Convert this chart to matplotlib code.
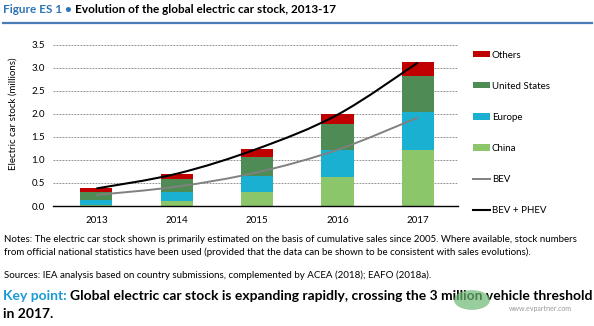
import matplotlib
matplotlib.use('Agg')
import matplotlib.pyplot as plt
import numpy as np
from matplotlib.path import Path
from matplotlib.patches import PathPatch, Patch, Circle
from matplotlib.lines import Line2D

plt.rcParams['font.family'] = ['Lato', 'DejaVu Sans']

# ---- data (millions of electric cars) ----
years = ['2013', '2014', '2015', '2016', '2017']
china = [0.02, 0.10, 0.30, 0.64, 1.21]
europe = [0.12, 0.20, 0.36, 0.57, 0.84]
united_states = [0.165, 0.28, 0.41, 0.56, 0.76]
others = [0.075, 0.11, 0.17, 0.22, 0.31]
bev = [0.24, 0.42, 0.73, 1.22, 1.92]
bev_phev = [0.38, 0.70, 1.24, 1.98, 3.11]
yticks = [0.0, 0.5, 1.0, 1.5, 2.0, 2.5, 3.0, 3.5]

C_CHINA = '#8CC66A'
C_EUROPE = '#19B0D2'
C_US = '#4F8B55'
C_OTHERS = '#C00000'
C_BEV = '#808080'
C_TOTAL = '#000000'

W, H = 594, 326
fig = plt.figure(figsize=(W / 100, H / 100), dpi=100)

def fx(px):
    return px / W

def fy(py):
    return 1 - py / H

ax = fig.add_axes([fx(53), fy(206), (458 - 53) / W, (206 - 44.7) / H])

x = np.arange(len(years))
bw = 0.4
bottom = np.zeros(len(years))
for vals, col, lab in [(china, C_CHINA, 'China'), (europe, C_EUROPE, 'Europe'),
                       (united_states, C_US, 'United States'), (others, C_OTHERS, 'Others')]:
    ax.bar(x, vals, bw, bottom=bottom, color=col, zorder=2, linewidth=0)
    bottom = bottom + np.array(vals)

def smooth_path(xs, ys):
    pts = np.column_stack([xs, ys]).astype(float)
    n = len(pts)
    verts = [pts[0]]
    codes = [Path.MOVETO]
    for i in range(n - 1):
        p0 = pts[i - 1] if i > 0 else pts[i]
        p1 = pts[i]
        p2 = pts[i + 1]
        p3 = pts[i + 2] if i + 2 < n else pts[i + 1]
        c1 = p1 + (p2 - p0) / 6.0
        c2 = p2 - (p3 - p1) / 6.0
        verts += [c1, c2, p2]
        codes += [Path.CURVE4] * 3
    return Path(verts, codes)

ax.add_patch(PathPatch(smooth_path(x, bev), fill=False, edgecolor=C_BEV, lw=1.4, zorder=3,
                       capstyle='butt'))
ax.add_patch(PathPatch(smooth_path(x, bev_phev), fill=False, edgecolor=C_TOTAL, lw=1.5, zorder=4,
                       capstyle='butt'))

ax.set_xlim(-0.54, 4.5)
ax.set_ylim(0, 3.5)
ax.set_yticks(yticks)
ax.set_yticklabels([f'{v:.1f}' for v in yticks])
ax.set_xticks(x)
ax.set_xticklabels(years)
for v in yticks[1:]:
    ax.axhline(v, color='#808080', lw=0.6, ls=(0, (2.2, 1.4)), zorder=1)
for s in ['top', 'right', 'left']:
    ax.spines[s].set_visible(False)
ax.spines['bottom'].set_color('black')
ax.spines['bottom'].set_linewidth(1.0)
ax.spines['bottom'].set_zorder(5)
ax.tick_params(axis='y', length=0, pad=6, labelsize=7, colors='#000000')
ax.tick_params(axis='x', length=0, pad=7, labelsize=7, colors='#000000')

fig.text(fx(13), fy(114), 'Electric car stock (millions)', rotation=90, ha='center', va='center',
         fontsize=7)

handles = [Patch(facecolor=C_OTHERS), Patch(facecolor=C_US), Patch(facecolor=C_EUROPE),
           Patch(facecolor=C_CHINA), Line2D([], [], color=C_BEV, lw=1.4),
           Line2D([], [], color=C_TOTAL, lw=1.5)]
labels = ['Others', 'United States', 'Europe', 'China', 'BEV', 'BEV + PHEV']
ax.legend(handles, labels, loc='upper left', bbox_to_anchor=(fx(473), fy(50.5)),
          bbox_transform=fig.transFigure, frameon=False, fontsize=7, borderpad=0,
          borderaxespad=0, handlelength=1.75, handleheight=0.65, handletextpad=0.2,
          labelspacing=2.28)

# ---- title ----
fig.canvas.draw()
r = fig.canvas.get_renderer()

def width(t):
    return t.get_window_extent(r).width

BLUE1 = '#2E75B6'
BLUE2 = '#1A9AD6'
t1 = fig.text(fx(3), fy(9.5), 'Figure ES 1 \u2022 ', color=BLUE1, fontsize=9, fontweight='bold',
              ha='left', va='center')
t2 = fig.text(0, fy(9.5), 'Evolution of the global electric car stock, 2013-17', color='black',
              fontsize=9, fontweight='bold', ha='left', va='center')
tot = width(t1) + width(t2)
fs = 9 * 332 / tot
t1.set_fontsize(fs); t2.set_fontsize(fs)
t2.set_x(fx(3 + width(t1)))

fig.add_artist(Line2D([fx(3), fx(592)], [fy(22.7), fy(22.7)], color='#4A7DB5', lw=1.6))

# ---- notes ----
n1 = fig.text(fx(4), fy(240), 'Notes: The electric car stock shown is primarily estimated on the basis of '
              'cumulative sales since 2005. Where available, stock numbers', fontsize=6,
              ha='left', va='center')
fsn = 6 * 582 / width(n1)
n1.set_fontsize(fsn)
fig.text(fx(4), fy(252), 'from official national statistics have been used (provided that the data can '
         'be shown to be consistent with sales evolutions).', fontsize=fsn, ha='left', va='center')
fig.text(fx(4), fy(275), 'Sources: IEA analysis based on country submissions, complemented by ACEA '
         '(2018); EAFO (2018a).', fontsize=fsn, ha='left', va='center')

k1 = fig.text(fx(3.3), fy(296.5), 'Key point: ', color=BLUE2, fontsize=9, fontweight='bold',
              ha='left', va='center')
k2 = fig.text(0, fy(296.5), 'Global electric car stock is expanding rapidly, crossing the 3 million '
              'vehicle threshold', color='black', fontsize=9, fontweight='bold', ha='left', va='center')
tot = width(k1) + width(k2)
fsk = 9 * 585 / tot
k1.set_fontsize(fsk); k2.set_fontsize(fsk)
k2.set_x(fx(3.3 + width(k1)))
fig.text(fx(3.3), fy(314), 'in 2017.', color='black', fontsize=fsk, fontweight='bold',
         ha='left', va='center')

# ---- watermark ----
fig.add_artist(Circle((fx(472), fy(300)), radius=18 / W, transform=fig.transFigure,
                      facecolor='#6DB874', alpha=0.7, edgecolor='none', zorder=10))
fig.text(fx(540), fy(308), 'www.evpartner.com', color='#9a9a9a', fontsize=5, ha='center',
         va='center', zorder=11)

fig.savefig('out.png', dpi=100)
